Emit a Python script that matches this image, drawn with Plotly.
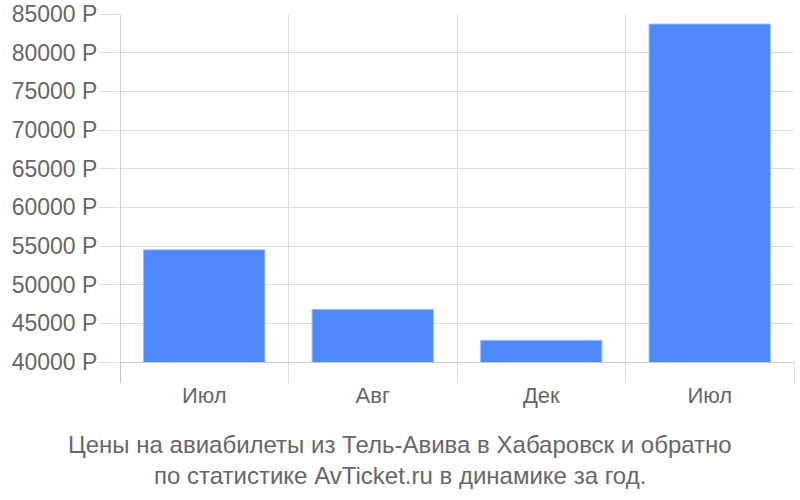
import plotly.graph_objects as go

# Flight prices Tel Aviv - Khabarovsk, by month
months = ["Июл", "Авг", "Дек", "Июл"]
prices = [54500, 46800, 42800, 83700]
y_ticks = list(range(40000, 85001, 5000))
y_labels = [f"{v} Р" for v in y_ticks]

title_lines = [
    "Цены на авиабилеты из Тель-Авива в Хабаровск и обратно",
    "по статистике AvTicket.ru в динамике за год.",
]

positions = list(range(len(months)))
boundaries = [p - 0.5 for p in positions] + [positions[-1] + 0.5]

fig_w, fig_h = 800, 500
plot_l, plot_t, plot_r = 120, 14, 6
plot_h = 348
plot_w = fig_w - plot_l - plot_r

fig = go.Figure(
    go.Bar(
        x=positions,
        y=prices,
        width=0.72,
        marker={"color": "#4d89f9", "line": {"color": "#9dbdfb", "width": 1}},
        hovertemplate="%{y} Р<extra></extra>",
    )
)

fig.update_layout(
    width=fig_w,
    height=fig_h,
    margin={"l": plot_l, "r": plot_r, "t": plot_t, "b": fig_h - plot_t - plot_h, "autoexpand": False},
    paper_bgcolor="white",
    plot_bgcolor="white",
    font={"family": "Liberation Sans, Arial, sans-serif", "size": 22, "color": "#666"},
    showlegend=False,
    xaxis={
        "range": [-0.5, len(months) - 0.5],
        "tickvals": positions,
        "ticktext": months,
        "ticks": "",
        "ticklabelstandoff": 14,
        "automargin": False,
        "showgrid": False,
        "showline": True,
        "linecolor": "#cccccc",
        "linewidth": 1,
        "minor": {
            "tickvals": boundaries,
            "showgrid": True,
            "gridcolor": "#dddddd",
            "gridwidth": 1,
            "ticks": "outside",
            "ticklen": 20,
            "tickcolor": "#dddddd",
            "tickwidth": 1,
        },
        "fixedrange": True,
    },
    yaxis={
        "range": [40000, 85000],
        "tickvals": y_ticks,
        "ticktext": y_labels,
        "tickfont": {"size": 23},
        "ticks": "outside",
        "ticklen": 20,
        "tickcolor": "#dddddd",
        "ticklabelstandoff": -3,
        "ticklabeloverflow": "allow",
        "gridcolor": "#dddddd",
        "gridwidth": 1,
        "automargin": False,
        "zeroline": False,
        "showline": False,
        "fixedrange": True,
    },
    shapes=[
        {
            "type": "line",
            "xref": "x",
            "yref": "paper",
            "x0": -0.5,
            "x1": -0.5,
            "y0": -20 / plot_h,
            "y1": 1,
            "line": {"color": "#aaaaaa", "width": 1},
        }
    ],
)

for i, line in enumerate(title_lines):
    fig.add_annotation(
        text=line,
        xref="paper",
        yref="paper",
        x=(400 - plot_l) / plot_w,
        y=-(445 + 30 * i - 362) / plot_h,
        xanchor="center",
        yanchor="middle",
        showarrow=False,
        font={"size": 24, "color": "#666"},
    )

# drop the default body margin so the 800x500 figure fills the window
fig.write_html(
    "out.html",
    config={"displayModeBar": False},
    post_script="document.body.style.margin = '0';",
)
